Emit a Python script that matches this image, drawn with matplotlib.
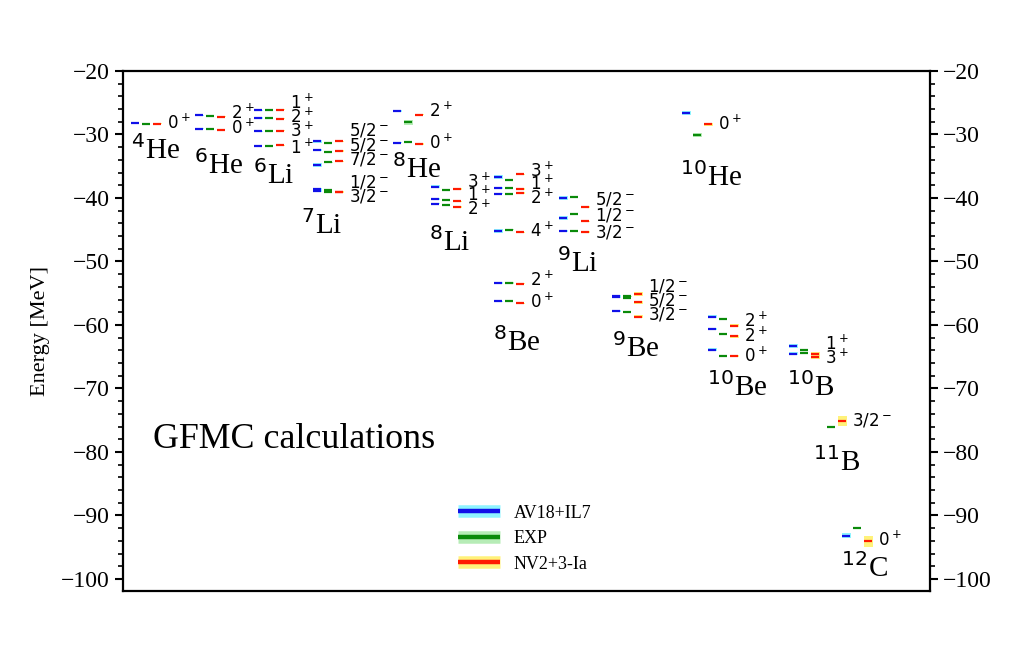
import numpy as np
import matplotlib
matplotlib.use('Agg')
import matplotlib.pyplot as plt
from matplotlib.lines import Line2D
from matplotlib.ticker import MultipleLocator

plt.rcParams['font.family'] = ['Liberation Serif', 'DejaVu Sans']
plt.rcParams['mathtext.fontset'] = 'dejavusans'

# ---------------- data ----------------
nuclei = [r'$^{4}$He', r'$^{6}$He', r'$^{6}$Li', r'$^{7}$Li', r'$^{8}$He', r'$^{8}$Li',
          r'$^{8}$Be', r'$^{9}$Li', r'$^{9}$Be', r'$^{10}$He', r'$^{10}$Be', r'$^{10}$B',
          r'$^{11}$B', r'$^{12}$C']

level_nucleus = [0,
                 1, 1,
                 2, 2, 2, 2,
                 3, 3, 3, 3, 3,
                 4, 4,
                 5, 5, 5,
                 6, 6, 6, 6, 6, 6,
                 7, 7, 7,
                 8, 8, 8,
                 9,
                 10, 10, 10,
                 11, 11,
                 12,
                 13]

level_jpi = ['0^+',
             '2^+', '0^+',
             '1^+', '2^+', '3^+', '1^+',
             '5/2^-', '5/2^-', '7/2^-', '1/2^-', '3/2^-',
             '2^+', '0^+',
             '3^+', '1^+', '2^+',
             '3^+', '1^+', '2^+', '4^+', '2^+', '0^+',
             '5/2^-', '1/2^-', '3/2^-',
             '1/2^-', '5/2^-', '3/2^-',
             '0^+',
             '2^+', '2^+', '0^+',
             '1^+', '3^+',
             '3/2^-',
             '0^+']

e_av18 = [-28.2,
          -27.0, -29.1,
          -26.2, -27.4, -29.5, -31.8,
          -31.1, -32.4, -34.8, -38.6, -38.9,
          -26.3, -31.3,
          -38.2, -40.2, -40.9,
          -36.7, -38.4, -39.3, -45.2, -53.4, -56.3,
          -40.05, -43.2, -45.2,
          -55.5, -55.6, -57.8,
          -26.6,
          -58.7, -60.6, -63.9,
          -63.3, -64.5,
          np.nan,
          -93.2]

e_exp = [-28.3,
         -27.1, -29.2,
         -26.2, -27.4, -29.5, -31.8,
         -31.4, -32.7, -34.4, -38.7, -39.1,
         -28.1, -31.2,
         -38.7, -40.3, -41.1,
         -37.2, -38.4, -39.4, -45.0, -53.4, -56.3,
         -39.8, -42.5, -45.2,
         -55.5, -55.7, -58.0,
         -30.1,
         -59.0, -61.5, -64.9,
         -63.9, -64.4,
         -76.0,
         -92.0]

e_nv2 = [-28.3,
         -27.2, -29.3,
         -26.1, -27.5, -29.4, -31.7,
         -31.1, -32.6, -34.2, -39.0, -39.1,
         -26.9, -31.5,
         -38.6, -40.5, -41.4,
         -36.3, -38.6, -39.2, -45.4, -53.5, -56.6,
         -41.4, -43.7, -45.3,
         -55.1, -56.4, -58.7,
         -28.4,
         -60.1, -61.8, -64.9,
         -64.6, -65.1,
         -75.1,
         -94.1]

err_av18 = [0.05,
            0.1, 0.05,
            0.1, 0.1, 0.1, 0.05,
            0.2, 0.15, 0.3, 0.15, 0.1,
            0.2, 0.1,
            0.3, 0.15, 0.1,
            0.3, 0.15, 0.1, 0.35, 0.1, 0.1,
            0.3, 0.3, 0.15,
            0.2, 0.1, 0.1,
            0.3,
            0.25, 0.2, 0.25,
            0.3, 0.3,
            0.0,
            0.4]

err_exp = [0.0,
           0.0, 0.0,
           0.0, 0.0, 0.0, 0.0,
           0.0, 0.0, 0.1, 0.0, 0.0,
           0.4, 0.0,
           0.0, 0.0, 0.0,
           0.0, 0.0, 0.0, 0.1, 0.1, 0.0,
           0.0, 0.0, 0.0,
           0.1, 0.0, 0.0,
           0.3,
           0.0, 0.0, 0.0,
           0.0, 0.0,
           0.0,
           0.0]

err_nv2 = [0.05,
           0.05, 0.05,
           0.1, 0.05, 0.05, 0.05,
           0.15, 0.15, 0.1, 0.1, 0.1,
           0.1, 0.1,
           0.1, 0.1, 0.1,
           0.1, 0.1, 0.1, 0.1, 0.1, 0.1,
           0.1, 0.15, 0.15,
           0.3, 0.25, 0.25,
           0.2,
           0.2, 0.2, 0.2,
           0.3, 0.3,
           0.8,
           0.9]

series_names = ['AV18+IL7', 'EXP', 'NV2+3-Ia']

# ---------------- layout ----------------
group_x = [8, 72, 131, 190, 270, 308, 371, 436, 489, 559, 585, 666, 693, 719]
name_x = [32, 95, 151, 199, 293, 327, 394, 455, 513, 588, 614, 688, 714, 741]
name_y = [-32.4, -34.8, -36.4, -44.3, -35.4, -46.9, -62.7, -50.2, -63.6, -36.7,
          -69.8, -69.8, -81.6, -98.3]
label_y = [-28.2,
           -26.6, -29.0,
           -25.0, -27.2, -29.4, -32.1,
           -29.4, -31.7, -34.0, -37.6, -39.8,
           -26.3, -31.3,
           -37.5, -39.5, -41.7,
           -35.7, -37.8, -40.0, -45.2, -52.9, -56.4,
           -40.3, -42.8, -45.4,
           -54.0, -56.1, -58.4,
           -28.3,
           -59.4, -61.7, -64.9,
           -63.0, -65.2,
           -75.1,
           -93.9]

dark = ['#1010e8', '#0a8a0a', '#ff1a00']
light = ['#8ef4ff', '#b6ecb6', '#fff27a']
offsets = [0, 11, 22]
dash_w = 8

fig = plt.figure(figsize=(10.24, 6.52), dpi=100)
ax = fig.add_axes([123/1024, 1 - 591/652, (930-123)/1024, (591-71)/652])

series_e = [e_av18, e_exp, e_nv2]
series_err = [err_av18, err_exp, err_nv2]

for s in range(3):
    for i, n in enumerate(level_nucleus):
        e = series_e[s][i]
        if np.isnan(e):
            continue
        x0 = group_x[n] + offsets[s]
        er = series_err[s][i]
        if er > 0:
            ax.bar(x0 - 0.5, 2 * er, width=dash_w + 1, bottom=e - er, align='edge',
                   color=light[s], linewidth=0, zorder=1)
        ax.hlines(e, x0, x0 + dash_w, color=dark[s], lw=1.6, zorder=2)

for i, n in enumerate(level_nucleus):
    ax.text(group_x[n] + 36, label_y[i], '$' + level_jpi[i] + '$', fontsize=12,
            ha='left', va='center', zorder=3)

for k, name in enumerate(nuclei):
    ax.text(name_x[k], name_y[k], name, fontsize=21, ha='center', va='center')

ax.text(30, -78.1, 'GFMC calculations', fontsize=25.8, ha='left', va='center')

handles = [(Line2D([], [], color=light[s], lw=9, solid_capstyle='butt'),
            Line2D([], [], color=dark[s], lw=3.2, solid_capstyle='butt')) for s in range(3)]
ax.legend(handles, series_names, loc='lower left', bbox_to_anchor=(0.395, 0.004),
          frameon=False, fontsize=13, handlelength=2.3, labelspacing=0.47)

ax.set_xlim(0, 807)
ax.set_ylim(-101.9, -20)
ax.set_xticks([])
ax.yaxis.set_major_locator(MultipleLocator(10))
ax.yaxis.set_minor_locator(MultipleLocator(2))
ax.tick_params(axis='y', which='both', direction='out', left=True, right=True,
               labelleft=True, labelright=True, labelsize=17)
ax.tick_params(axis='y', which='major', length=6, width=1.5)
ax.tick_params(axis='y', which='minor', length=3.5, width=1.2)
for sp in ax.spines.values():
    sp.set_linewidth(1.6)
ax.set_ylabel('Energy [MeV]', fontsize=16, labelpad=8)

fig.savefig('out.png', dpi=100)
